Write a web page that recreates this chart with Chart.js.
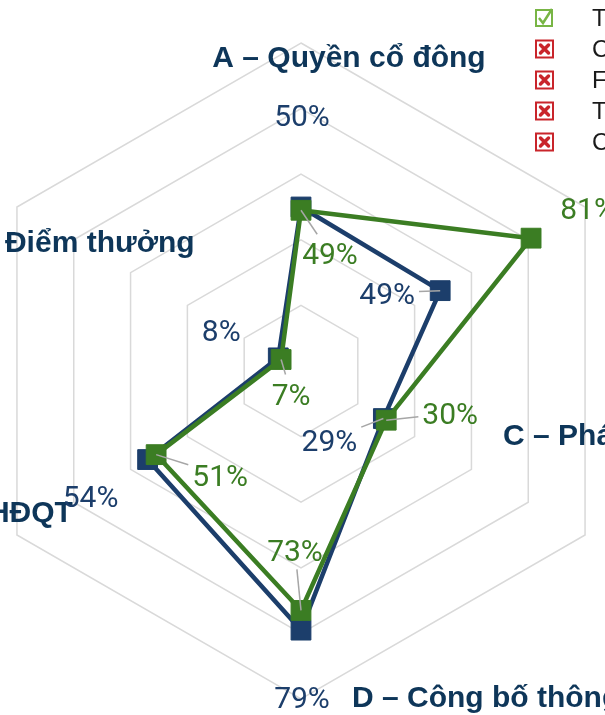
<!DOCTYPE html>
<html>
<head>
<meta charset="utf-8">
<script src="https://cdn.jsdelivr.net/npm/chart.js@4.4.0/dist/chart.umd.min.js"></script>
<style>
  html, body { margin: 0; padding: 0; background: #fff; }
  #wrap { position: relative; width: 605px; height: 715px; overflow: hidden; }
  #chart { position: absolute; left: -100px; top: -60px; }
</style>
</head>
<body>
<div id="wrap"><canvas id="chart" width="900" height="860"></canvas></div>
<script>
// data
const categories = [
    'A – Quyền cổ đông',
    'B – Đối xử bình đẳng với cổ đông',
    'C – Phát triển bền vững',
    'D – Công bố thông tin và minh bạch',
    'E – Trách nhiệm của HĐQT',
    'Điểm thưởng'
];
const blueValues = [50, 49, 29, 79, 54, 8];
const greenValues = [49, 81, 30, 73, 51, 7];
const seriesNames = ['Trung bình thị trường', 'Công ty'];
const legendLabels = ['Tổng quan', 'Công ty', 'FPT', 'Thị trường', 'Cùng ngành'];
const legendChecked = [true, false, false, false, false];
const tickValues = [0, 20, 40, 60, 80, 100];

const navy = '#1c3e6b';
const green = '#3b7d23';
const labelNavy = '#0e3659';

/* label placement (pixels, relative to the point / axis end) */
const axisLabelPlacement = [
    [48, 24, 'center'],
    [25, 0, 'left'],
    [-82, -90, 'left'],
    [51, 8, 'left'],
    [56, -13, 'right'],
    [-12, 45, 'left']
];
const valueLabelPlacement = {
    blue: {
        offsets: [[1, -92], [-53, 2], [-54, 21], [1, 67], [-57, 36], [-57, -28]],
        leader: [false, true, true, false, false, false]
    },
    green: {
        offsets: [[29, 43], [57, -30], [64, -7], [-6, -60], [64, 20], [10, 34]],
        leader: [true, false, true, true, true, true]
    }
};

const labelsPlugin = {
    id: 'labelsPlugin',
    beforeDatasetsDraw(chart) {
        const ctx = chart.ctx;
        const scale = chart.scales.r;
        ctx.save();
        ctx.font = 'bold 30px "Liberation Sans", Arial, sans-serif';
        ctx.fillStyle = labelNavy;
        ctx.textBaseline = 'alphabetic';
        categories.forEach((cat, i) => {
            const p = scale.getPointPositionForValue(i, 100);
            const [dx, dy, align] = axisLabelPlacement[i];
            ctx.textAlign = align;
            ctx.fillText(cat, p.x + dx, p.y + dy);
        });
        ctx.restore();
    },
    afterDatasetsDraw(chart) {
        const ctx = chart.ctx;
        ctx.save();
        ctx.font = '30px Roboto, "Liberation Sans", sans-serif';
        ctx.textAlign = 'center';
        ctx.textBaseline = 'alphabetic';
        chart.data.datasets.forEach((ds, di) => {
            const meta = chart.getDatasetMeta(di);
            const place = valueLabelPlacement[ds.key];
            meta.data.forEach((pt, i) => {
                const text = ds.data[i] + '%';
                const [dx, dy] = place.offsets[i];
                const cx = pt.x + dx;
                const cy = pt.y + dy;
                if (place.leader[i]) {
                    const hw = ctx.measureText(text).width / 2 + 4;
                    const hh = 19;
                    const vx = pt.x - cx;
                    const vy = pt.y - cy;
                    const t = Math.min(Math.abs(hw / vx) || Infinity, Math.abs(hh / vy) || Infinity);
                    ctx.strokeStyle = '#a6a6a6';
                    ctx.lineWidth = 1.5;
                    ctx.beginPath();
                    ctx.moveTo(pt.x, pt.y);
                    ctx.lineTo(cx + vx * t, cy + vy * t);
                    ctx.stroke();
                }
                ctx.fillStyle = ds.borderColor;
                ctx.fillText(text, cx, cy + 11);
            });
        });
        ctx.restore();
    },
    afterDraw(chart) {
        // checkbox legend, top right
        const ctx = chart.ctx;
        ctx.save();
        ctx.font = '24px "Liberation Sans", Arial, sans-serif';
        ctx.textAlign = 'left';
        ctx.textBaseline = 'middle';
        legendLabels.forEach((label, i) => {
            const x = 636;
            const y = 78 + i * 31;
            ctx.lineWidth = 2;
            if (legendChecked[i]) {
                ctx.strokeStyle = '#78b545';
                ctx.strokeRect(x, y - 8, 16, 16);
                ctx.lineWidth = 2.5;
                ctx.beginPath();
                ctx.moveTo(x + 3, y);
                ctx.lineTo(x + 7, y + 5);
                ctx.lineTo(x + 16, y - 9);
                ctx.stroke();
            } else {
                ctx.strokeStyle = '#c9252b';
                ctx.strokeRect(x, y - 8.5, 17, 17);
                ctx.lineWidth = 3.5;
                ctx.lineCap = 'round';
                ctx.beginPath();
                ctx.moveTo(x + 4.5, y - 4);
                ctx.lineTo(x + 12.5, y + 4);
                ctx.moveTo(x + 12.5, y - 4);
                ctx.lineTo(x + 4.5, y + 4);
                ctx.stroke();
                ctx.lineCap = 'butt';
            }
            ctx.fillStyle = '#1a1a1a';
            ctx.fillText(label, x + 56, y + 1);
        });
        ctx.restore();
    }
};

const config = {
    type: 'radar',
    data: {
        labels: categories,
        datasets: [{
            key: 'green',
            label: seriesNames[1],
            data: greenValues,
            borderColor: green,
            backgroundColor: green,
            borderWidth: 4.5,
            fill: false,
            pointStyle: 'rect',
            pointRadius: 14,
            pointBorderWidth: 1,
            pointBackgroundColor: green,
            pointBorderColor: green
        }, {
            key: 'blue',
            label: seriesNames[0],
            data: blueValues,
            borderColor: navy,
            backgroundColor: navy,
            borderWidth: 4.5,
            fill: false,
            pointStyle: 'rect',
            pointRadius: 14,
            pointBorderWidth: 1,
            pointBackgroundColor: navy,
            pointBorderColor: navy
        }]
    },
    options: {
        responsive: false,
        animation: false,
        layout: { padding: { left: 73, top: 103, right: 171, bottom: 101 } },
        plugins: {
            legend: { display: false },
            tooltip: { enabled: false }
        },
        scales: {
            r: {
                min: tickValues[0],
                max: tickValues[tickValues.length - 1],
                afterBuildTicks: scale => {
                    scale.ticks = tickValues.map(v => ({ value: v }));
                },
                ticks: { display: false },
                grid: { color: '#d9d9d9', lineWidth: 1.5 },
                angleLines: { display: false },
                pointLabels: { display: false }
            }
        }
    },
    plugins: [labelsPlugin]
};

new Chart(document.querySelector('#chart'), config);
</script>
</body>
</html>
